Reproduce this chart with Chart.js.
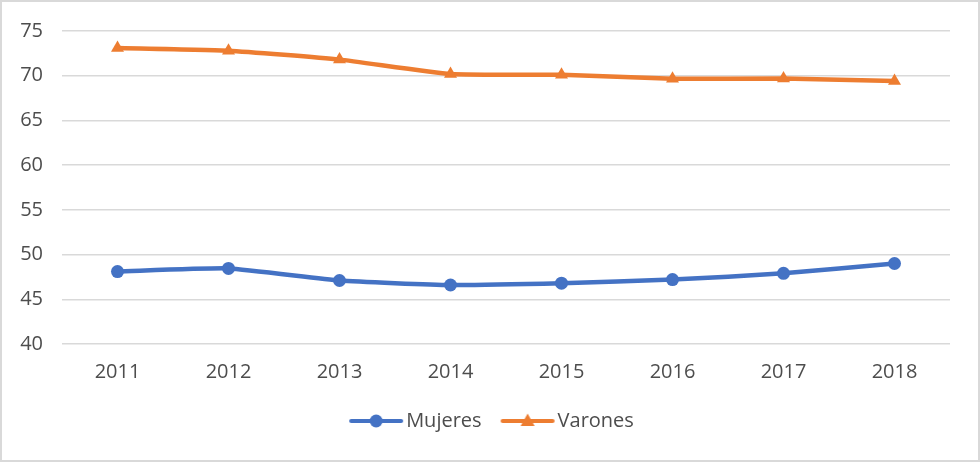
<!DOCTYPE html>
<html>
<head>
<meta charset="utf-8">
<script src="https://cdn.jsdelivr.net/npm/chart.js@4.4.1/dist/chart.umd.min.js"></script>
<style>
  html, body { margin: 0; padding: 0; background: #fff; }
  #wrap { width: 980px; height: 462px; position: relative; }
</style>
</head>
<body>
<div id="wrap"><canvas id="c" width="980" height="462"></canvas></div>
<script>
const years = ['2011', '2012', '2013', '2014', '2015', '2016', '2017', '2018'];
const mujeres = [48.1, 48.45, 47.1, 46.6, 46.8, 47.2, 47.9, 49.0];
const varones = [73.1, 72.8, 71.8, 70.2, 70.1, 69.65, 69.7, 69.4];
const yTicks = [40, 45, 50, 55, 60, 65, 70, 75];

const BLUE = '#4472C4';
const ORANGE = '#ED7D31';
const TEXT = '#4d4d4d';
const FONT = "'Open Sans', 'Segoe UI', sans-serif";

function legendIcon(color, style) {
  const cv = document.createElement('canvas');
  cv.width = 56; cv.height = 16;
  const g = cv.getContext('2d');
  g.strokeStyle = color; g.lineWidth = 4; g.lineCap = 'round';
  g.beginPath(); g.moveTo(3, 8); g.lineTo(53, 8); g.stroke();
  g.fillStyle = color;
  if (style === 'circle') {
    g.beginPath(); g.arc(28, 8, 6.5, 0, Math.PI * 2); g.fill();
  } else {
    g.beginPath(); g.moveTo(28, 0.5); g.lineTo(35, 13); g.lineTo(21, 13); g.closePath(); g.fill();
  }
  return cv;
}

const borderPlugin = {
  id: 'outerBorder',
  beforeDraw(chart) {
    const ctx = chart.ctx;
    ctx.save();
    ctx.fillStyle = '#fff';
    ctx.fillRect(0, 0, chart.width, chart.height);
    ctx.strokeStyle = '#d9d9d9';
    ctx.lineWidth = 2;
    ctx.strokeRect(1, 1, chart.width - 2, chart.height - 2);
    ctx.restore();
  }
};

const legendShift = {
  id: 'legendShift',
  afterLayout(chart) {
    if (chart.legend) {
      chart.legend.left += 20;
      chart.legend.right += 20;
    }
  }
};

new Chart(document.getElementById('c'), {
  type: 'line',
  data: {
    labels: years,
    datasets: [
      {
        label: 'Mujeres', data: mujeres,
        borderColor: BLUE, backgroundColor: BLUE,
        borderWidth: 4.5, pointStyle: 'circle', pointRadius: 6.5,
        pointBorderWidth: 0, tension: 0.15,
        legendIcon: legendIcon(BLUE, 'circle')
      },
      {
        label: 'Varones', data: varones,
        borderColor: ORANGE, backgroundColor: ORANGE,
        borderWidth: 4.5, pointStyle: 'triangle', pointRadius: 7.5,
        pointBorderWidth: 0, tension: 0.15,
        legendIcon: legendIcon(ORANGE, 'triangle')
      }
    ]
  },
  options: {
    responsive: false,
    animation: false,
    devicePixelRatio: 1,
    layout: { padding: { top: 21, left: 0, right: 30, bottom: 21 } },
    scales: {
      x: {
        offset: true,
        grid: { display: false, drawTicks: false },
        border: { display: false },
        ticks: { color: TEXT, font: { family: FONT, size: 20 }, padding: 16 },
        afterFit(s) { s.height = 41; }
      },
      y: {
        min: 40, max: 75,
        afterBuildTicks(s) { s.ticks = yTicks.map(v => ({ value: v })); },
        grid: { color: '#d9d9d9', lineWidth: 1.5, drawTicks: false },
        border: { display: false },
        ticks: { color: TEXT, font: { family: FONT, size: 20 }, padding: 19 },
        afterFit(s) { s.width = 62; }
      }
    },
    plugins: {
      tooltip: { enabled: false },
      legend: {
        position: 'bottom',
        labels: {
          color: TEXT,
          font: { family: FONT, size: 20 },
          usePointStyle: true,
          pointStyleWidth: 40,
          padding: 26,
          generateLabels(chart) {
            return chart.data.datasets.map((ds, i) => ({
              text: ds.label,
              pointStyle: ds.legendIcon,
              fillStyle: ds.borderColor,
              strokeStyle: ds.borderColor,
              lineWidth: 0,
              fontColor: TEXT,
              hidden: false,
              datasetIndex: i
            }));
          }
        }
      }
    }
  },
  plugins: [borderPlugin, legendShift]
});
</script>
</body>
</html>
